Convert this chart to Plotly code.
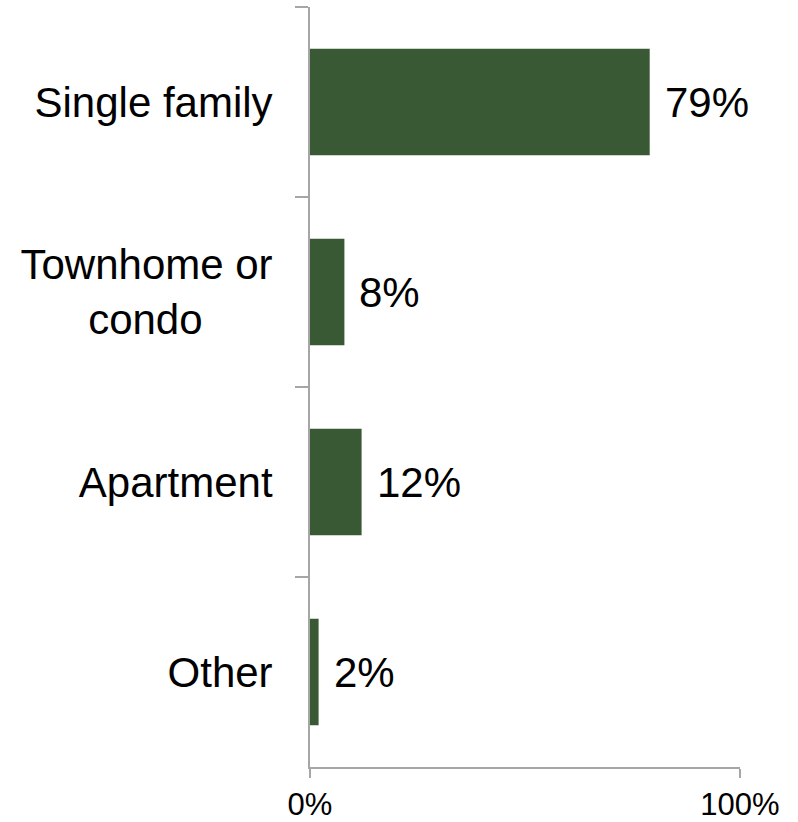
import plotly.graph_objects as go

categories = ["Single family", "Townhome or<br>condo\u00a0\u00a0\u00a0\u00a0\u00a0\u00a0", "Apartment", "Other"]
values = [79, 8, 12, 2]
value_labels = ["79%", "8%", "12%", "2%"]
x_tick_vals = [0, 100]
x_tick_text = ["0%", "100%"]

BAR_COLOR = "#385934"
AXIS_COLOR = "#a6a6a6"
FONT = "Liberation Sans, Arial, sans-serif"

fig = go.Figure()
fig.add_trace(go.Bar(
    y=categories, x=values, orientation="h",
    marker=dict(color=BAR_COLOR, line=dict(width=0)),
    width=0.56, hoverinfo="skip",
))

for c, v, t in zip(categories, values, value_labels):
    fig.add_annotation(x=v, y=c, text=t, showarrow=False, xanchor="left",
                       yanchor="middle", xshift=13,
                       font=dict(family=FONT, size=42, color="#000000"))

fig.update_layout(
    width=798, height=822,
    margin=dict(l=310, r=58, t=7, b=55),
    paper_bgcolor="white", plot_bgcolor="white",
    showlegend=False,
    font=dict(family=FONT, color="#000000"),
    bargap=0.44,
)
fig.update_xaxes(
    range=[0, 100], tickvals=x_tick_vals, ticktext=x_tick_text,
    showgrid=False, zeroline=False,
    showline=True, linecolor=AXIS_COLOR, linewidth=2,
    ticks="outside", ticklen=9, tickwidth=2, tickcolor=AXIS_COLOR,
    tickfont=dict(family=FONT, size=31, color="#000000"),
    automargin=False,
    fixedrange=True,
)
fig.update_yaxes(
    categoryorder="array", categoryarray=categories,
    autorange="reversed",
    showgrid=False, zeroline=False,
    showline=True, linecolor=AXIS_COLOR, linewidth=2,
    ticks="outside", ticklen=13, tickwidth=2, tickcolor=AXIS_COLOR,
    tickson="boundaries",
    ticklabelstandoff=27,
    tickfont=dict(family=FONT, size=42, color="#000000"),
    automargin=False,
    fixedrange=True,
)

fig.write_html("out.html", config={"displayModeBar": False},
               post_script="document.body.style.margin='0';")
